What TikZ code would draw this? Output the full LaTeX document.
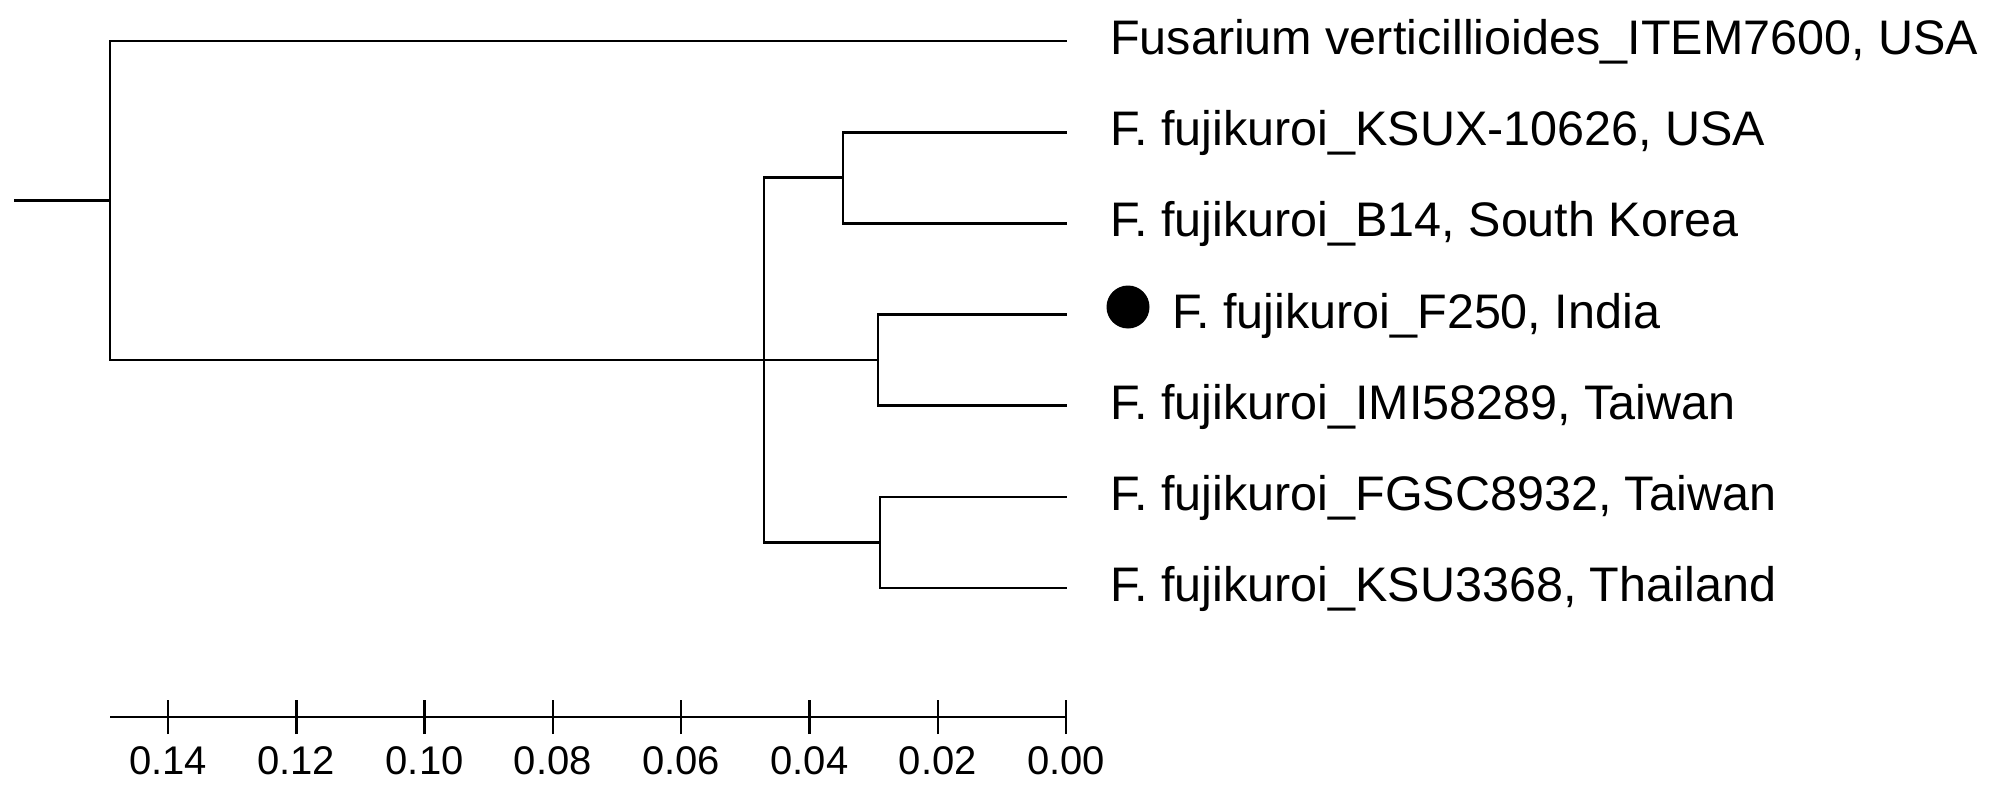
\documentclass[tikz,border=0pt]{standalone}
\usepackage{fontspec}
\setmainfont{Liberation Sans}
\begin{document}
\begin{tikzpicture}[x=1pt,y=-1pt,
  branch/.style={line width=2.6pt},
  tickline/.style={line width=2.4pt},
  leaflabel/.style={anchor=base west, inner sep=0pt, font=\fontsize{48.5}{58}\selectfont},
  scalelabel/.style={anchor=base, inner sep=0pt, font=\fontsize{40}{48}\selectfont},
  markdot/.style={circle, fill=black, minimum size=43pt, inner sep=0pt}]
\useasboundingbox (0,0) rectangle (2006,792);
% internal nodes
\coordinate (stub) at (14,200.5);
\coordinate (root) at (110,200.5);
\coordinate (fuj) at (764,360);
\coordinate (nA) at (843,177.6);
\coordinate (nB) at (878,360);
\coordinate (nC) at (880,542.4);
% leaf tips
\coordinate (l1) at (1067,41);
\coordinate (l2) at (1067,132.2);
\coordinate (l3) at (1067,223.3);
\coordinate (l4) at (1067,314.5);
\coordinate (l5) at (1067,405.7);
\coordinate (l6) at (1067,496.8);
\coordinate (l7) at (1067,588);
% tree
\draw[branch] (stub) -- (root);
\draw[branch] (root) |- (l1);
\draw[branch] (root) |- (fuj);
\draw[branch] (fuj) |- (nA);
\draw[branch] (fuj) |- (nC);
\draw[branch] (fuj) -- (nB);
\draw[branch] (nA) |- (l2);
\draw[branch] (nA) |- (l3);
\draw[branch] (nB) |- (l4);
\draw[branch] (nB) |- (l5);
\draw[branch] (nC) |- (l6);
\draw[branch] (nC) |- (l7);
% labels
\node[leaflabel] (t1) at (1110,54.5) {Fusarium verticillioides\_ITEM7600, USA};
\node[leaflabel] (t2) at (1110,145.7) {F. fujikuroi\_KSUX-10626, USA};
\node[leaflabel] (t3) at (1110,236.8) {F. fujikuroi\_B14, South Korea};
\node[markdot] (dot) at (1128,307) {};
\node[leaflabel] (t4) at (1172,328) {F. fujikuroi\_F250, India};
\node[leaflabel] (t5) at (1110,419.2) {F. fujikuroi\_IMI58289, Taiwan};
\node[leaflabel] (t6) at (1110,510.3) {F. fujikuroi\_FGSC8932, Taiwan};
\node[leaflabel] (t7) at (1110,601.5) {F. fujikuroi\_KSU3368, Thailand};
% scale bar
\coordinate (a0) at (110,717);
\coordinate (a1) at (1066,717);
\draw[branch] (a0) -- (a1);
\foreach \i/\lab in {0/0.00,1/0.02,2/0.04,3/0.06,4/0.08,5/0.10,6/0.12,7/0.14}{
  \coordinate (tk\i) at ({1066-128.28*\i},717);
  \draw[tickline] ([yshift=-17pt]tk\i) -- ([yshift=17pt]tk\i);
  \node[scalelabel] (s\i) at ({1066-128.28*\i},774) {\lab};
}
\end{tikzpicture}
\end{document}
